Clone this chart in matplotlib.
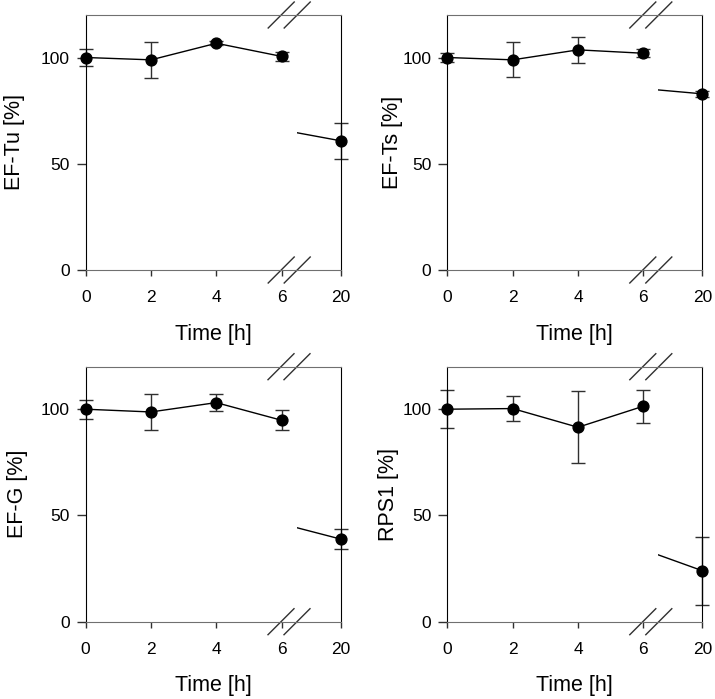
import numpy as np
import matplotlib
matplotlib.use('Agg')
import matplotlib.pyplot as plt
from matplotlib import transforms

plt.rcParams['font.family'] = ['Liberation Sans', 'DejaVu Sans']

# 시간 (h)
times = [0, 2, 4, 6, 20]

# 단백질별 상대량 (%) 과 오차
labels = ['EF-Tu [%]', 'EF-Ts [%]', 'EF-G [%]', 'RPS1 [%]']
ef_tu = [100, 98.9, 106.7, 100.5, 60.8]
ef_tu_err = [3.9, 8.6, 1.0, 2.2, 8.4]
ef_ts = [100, 98.9, 103.6, 102.0, 82.9]
ef_ts_err = [2.0, 8.3, 6.0, 1.9, 1.5]
ef_g = [100, 98.7, 103.1, 94.8, 38.9]
ef_g_err = [4.4, 8.3, 4.1, 4.7, 4.8]
rps1 = [100, 100.3, 91.5, 101.4, 24.0]
rps1_err = [9.0, 6.0, 17.0, 7.8, 16.0]

series = [ef_tu, ef_ts, ef_g, rps1]
errors = [ef_tu_err, ef_ts_err, ef_g_err, rps1_err]

W, H = 715, 699
fig = plt.figure(figsize=(W / 100, H / 100), dpi=100)

# 패널 위치 (픽셀, 왼쪽/위)
panel_pos = [(85.7, 15), (447.3, 15), (85.5, 366.7), (447.3, 366.7)]
ylab_x = [-0.289, -0.209, -0.272, -0.227]
pw, ph = 255, 255
w_left = 211          # 끊김 전 구간 폭
px_per_h = 32.67
xmax_left = w_left / px_per_h
xmin_right = 20 - (pw - w_left) / px_per_h

spine_gray = '#707070'
err_color = '#303030'

for k in range(4):
    x0, y0 = panel_pos[k]
    b = (H - y0 - ph) / H
    axl = fig.add_axes([x0 / W, b, w_left / W, ph / H])
    axr = fig.add_axes([(x0 + w_left) / W, b, (pw - w_left) / W, ph / H], sharey=axl)
    axr.patch.set_alpha(0)

    y = series[k]
    e = errors[k]

    # 왼쪽 구간 (0-6 h)
    axl.plot(times[:4], y[:4], color='black', lw=1)
    axl.errorbar(times[:4], y[:4], yerr=e[:4], fmt='none', ecolor=err_color,
                 elinewidth=1, capsize=5, capthick=1, clip_on=False)
    axl.plot(times[:4], y[:4], 'o', color='black', ms=7.8, clip_on=False, zorder=5)

    # 오른쪽 구간 (20 h)
    axr.plot(times[3:], y[3:], color='black', lw=1)
    axr.errorbar(times[4:], y[4:], yerr=e[4:], fmt='none', ecolor=err_color,
                 elinewidth=1, capsize=5, capthick=1, clip_on=False)
    axr.plot(times[4:], y[4:], 'o', color='black', ms=7.8, clip_on=False, zorder=5)

    axl.set_xlim(0, xmax_left)
    axr.set_xlim(xmin_right, 20)
    axl.set_ylim(0, 120)
    axl.set_xticks([0, 2, 4, 6])
    axr.set_xticks([20])
    axl.set_yticks([0, 50, 100])

    axl.spines['right'].set_visible(False)
    axr.spines['left'].set_visible(False)
    for a in (axl, axr):
        a.spines['top'].set_color(spine_gray)
        a.spines['bottom'].set_color(spine_gray)
        a.tick_params(axis='x', direction='out', length=4, width=1,
                      color='#303030', labelsize=12.5, pad=10.5)
    axl.spines['left'].set_color('black')
    axr.spines['right'].set_color('black')
    axl.tick_params(axis='y', direction='out', length=6.5, width=1,
                    color='#303030', labelsize=12.5, pad=5)
    axr.tick_params(axis='y', left=False, labelleft=False)

    axl.set_ylabel(labels[k], fontsize=15.5)
    axl.yaxis.set_label_coords(ylab_x[k], 0.5)
    axl.set_xlabel('Time [h]', fontsize=15.5)
    axl.xaxis.set_label_coords((pw / 2) / w_left, -0.21)

    # 끊김 표시 //
    trans = transforms.blended_transform_factory(axl.transData, axl.transAxes)
    cx = (289.2 - 85.7) / px_per_h
    dx = 13 / px_per_h
    dy = 13 / ph
    off = 8 / px_per_h
    for yb in (0, 1):
        for c in (cx - off, cx + off):
            axl.plot([c - dx, c + dx], [yb - dy, yb + dy], color='#303030',
                     lw=1, transform=trans, clip_on=False)

fig.savefig('out.png', dpi=100)
